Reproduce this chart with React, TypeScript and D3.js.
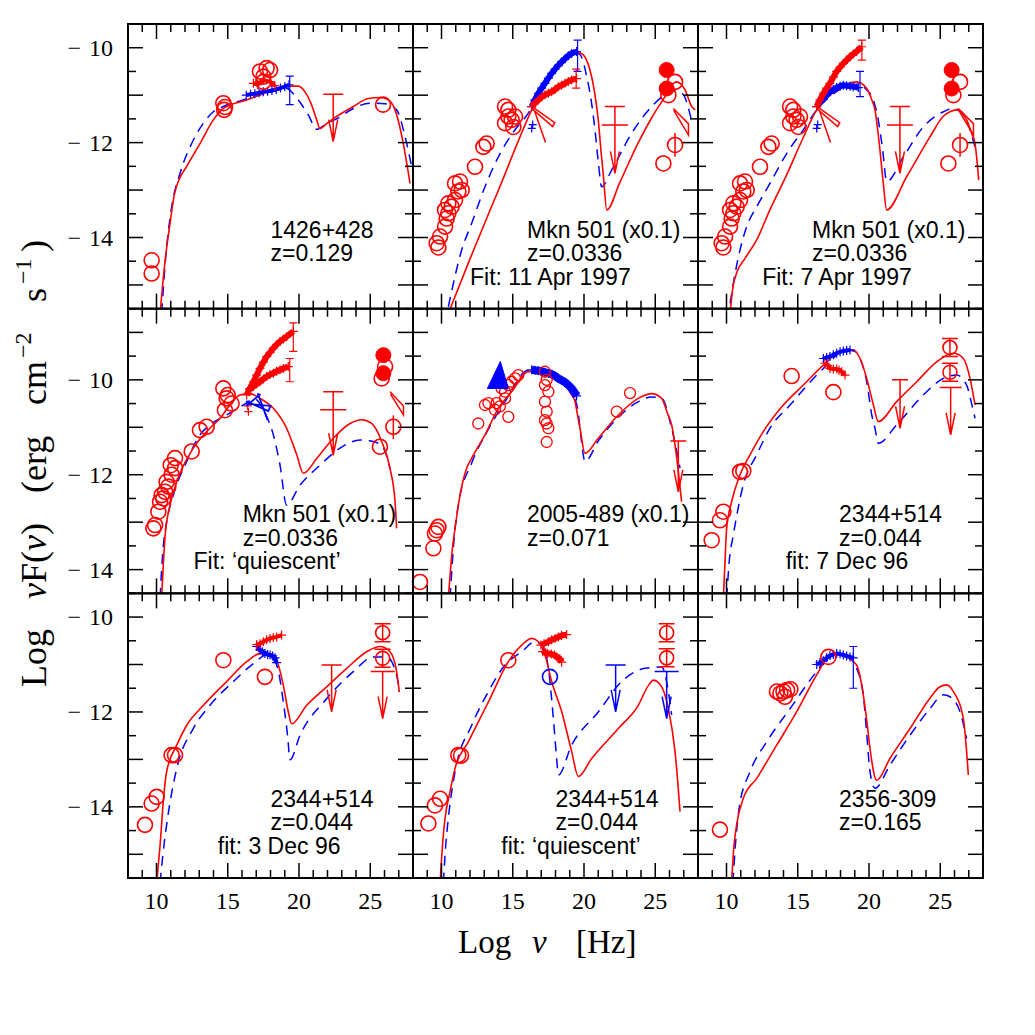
import React from "react";
import * as d3 from "d3";

type Pt = [number, number];
type Bar = [number, number, number]; // x, yHigh, yLow
type UL = [number, number, number, number, number?]; // x, yCap, yTip, capHalfWidth(px), optional second bar y

const X_DOMAIN: [number, number] = [8, 28];
const ROW_DOMAINS: [number, number][] = [[-15.5, -9.5], [-14.5, -8.5], [-15.5, -9.5]];
const X_TICK_LABELS = [10, 15, 20, 25];
const Y_TICK_LABELS = [-10, -12, -14];

// ---------- Panel 1: 1426+428 ----------
const p1Red: Pt[] = [[10.25,-15.6],[10.6,-14.5],[10.95,-13.7],[11.25,-13.1],[11.53,-12.82],[12.12,-12.5],[13.05,-12.02],[13.99,-11.52],[14.69,-11.28],[16.33,-11.1],[18.2,-10.89],[19.13,-10.81],[19.95,-10.81],[20.42,-10.93],[20.89,-11.21],[21.24,-11.52],[21.47,-11.7],[21.94,-11.6],[22.64,-11.45],[23.81,-11.24],[24.87,-11.07],[25.68,-11.05],[26.27,-11.1],[26.74,-11.31],[27.32,-12.02],[27.79,-12.86]];
const p1Blue: Pt[] = [[10.36,-15.6],[10.66,-14.37],[11.05,-13.38],[11.65,-12.65],[12.58,-11.95],[13.29,-11.59],[13.99,-11.35],[14.69,-11.24],[16.33,-11.08],[18.2,-10.92],[19.13,-10.86],[19.6,-10.97],[20.07,-11.15],[20.66,-11.42],[21.24,-11.72],[21.94,-11.6],[22.64,-11.5],[23.81,-11.28],[24.98,-11.17],[26.03,-11.18],[26.85,-11.31],[27.44,-11.87],[27.9,-12.5]];
const p1Circles: Pt[] = [[9.66,-14.48],[9.66,-14.76],[14.69,-11.17],[14.81,-11.25],[14.75,-11.31],[17.26,-10.5],[17.73,-10.43],[17.97,-10.47],[17.5,-10.61],[17.5,-10.72],[25.9,-11.2]];
const p1RedX: Pt[] = [[16.8,-10.75],[17.1,-10.78],[17.5,-10.68],[18.0,-10.72],[18.3,-10.8]];
const p1BlueX: Pt[] = [[16.3,-11.0],[16.6,-10.98],[16.9,-10.97],[17.2,-10.95],[17.5,-10.93],[17.8,-10.92],[18.1,-10.9],[18.4,-10.88],[18.7,-10.85],[19.0,-10.82],[19.3,-10.78]];
const p1BlueErr: Bar[] = [[19.35,-10.6,-11.2]];
const p1UL: UL[] = [[22.4,-10.98,-11.98,10]];
const p1Text = ["1426+428", "z=0.129"];
const p1TextX = [18, 18];

// ---------- Panels 2 & 3: Mkn 501 (shared observational points) ----------
const mknRadio: Pt[] = [[9.66,-14.12],[9.78,-14.21],[9.9,-13.98],[10.25,-13.77],[10.36,-13.6],[10.48,-13.49],[10.71,-13.35],[10.95,-13.21],[11.18,-13.03],[10.95,-12.86],[11.3,-12.82],[11.42,-13.0],[10.48,-13.28],[10.25,-13.42],[12.35,-12.51],[12.94,-12.09],[13.17,-12.02],[14.46,-11.24],[14.69,-11.45],[14.92,-11.52],[14.46,-11.59],[15.04,-11.67],[14.69,-11.31],[15.16,-11.45],[25.57,-12.44],[26.39,-12.05],[26.39,-10.72],[25.92,-11.0]];
const mknFilled: Pt[] = [[25.8,-10.47],[25.8,-10.86]];
const mknErr: Bar[] = [[26.39,-11.8,-12.3]];
const mknUL: UL[] = [[22.17,-11.24,-12.65,10,-11.63]];
const mknBows: Pt[][] = [[[16.4,-11.25],[17.95,-11.58],[17.8,-11.66],[16.4,-11.3]],[[16.55,-11.35],[17.3,-12.0]],[[26.27,-11.28],[27.33,-11.6],[27.33,-11.84],[26.3,-11.32]]];
const mknBlueCross: Pt[] = [[16.33,-11.7],[16.4,-11.62]];

const p2Red: Pt[] = [[10.48,-15.6],[12.0,-14.45],[14.0,-13.0],[16.33,-11.31],[17.0,-10.9],[17.7,-10.55],[18.4,-10.3],[19.0,-10.14],[19.5,-10.09],[19.95,-10.15],[20.4,-10.45],[20.75,-10.95],[21.0,-11.52],[21.2,-12.2],[21.36,-12.7],[21.6,-13.42],[22.5,-12.85],[23.81,-12.0],[24.8,-11.45],[25.68,-11.03],[26.15,-10.79],[26.5,-10.72],[26.85,-10.78],[27.09,-10.89],[27.56,-11.24],[27.8,-11.31]];
const p2Blue: Pt[] = [[10.48,-15.46],[11.42,-14.26],[12.12,-13.7],[13.05,-12.93],[13.99,-12.3],[15.16,-11.73],[16.09,-11.38],[16.8,-11.0],[17.8,-10.5],[18.9,-10.19],[19.6,-10.12],[19.9,-10.25],[20.19,-10.61],[20.5,-11.1],[20.77,-11.73],[21.0,-12.4],[21.24,-12.93],[21.94,-12.58],[23.35,-11.8],[24.75,-11.24],[25.68,-10.99],[26.39,-10.89],[26.85,-10.95],[27.09,-11.05],[27.35,-11.3],[27.51,-11.49]];
const p2RedX: Pt[] = [[16.33,-11.24],[16.55,-11.17],[16.8,-11.1],[17.03,-11.04],[17.26,-10.99],[17.5,-10.96],[17.73,-10.93],[17.97,-10.88],[18.2,-10.82],[18.43,-10.79],[18.67,-10.75],[18.9,-10.71],[19.13,-10.68],[19.48,-10.65]];
const p2BlueX: Pt[] = [[16.33,-11.24],[16.55,-11.1],[16.8,-10.96],[17.03,-10.85],[17.26,-10.75],[17.5,-10.64],[17.73,-10.54],[17.97,-10.45],[18.2,-10.37],[18.43,-10.3],[18.67,-10.23],[18.9,-10.17],[19.13,-10.12],[19.48,-10.08]];
const p2RedErr: Bar[] = [[19.45,-10.45,-10.85]];
const p2BlueErr: Bar[] = [[19.55,-9.84,-10.5]];
const p2Text = ["Mkn 501 (x0.1)", "z=0.0336", "Fit: 11 Apr 1997"];
const p2TextX = [16, 16, 12];

const p3Red: Pt[] = [[10.25,-15.6],[10.45,-15.05],[10.71,-14.75],[11.3,-14.44],[12.12,-14.05],[13.0,-13.45],[14.22,-12.68],[15.3,-11.95],[16.33,-11.31],[17.26,-11.0],[18.3,-10.78],[19.13,-10.72],[19.84,-10.86],[20.2,-11.1],[20.42,-11.31],[20.6,-11.7],[20.77,-12.16],[21.0,-12.85],[21.24,-13.42],[22.64,-12.72],[24.28,-11.88],[25.2,-11.45],[25.68,-11.35],[26.15,-11.31],[26.5,-11.38],[26.85,-11.52],[27.2,-11.8],[27.44,-12.02],[27.7,-12.79]];
const p3Blue: Pt[] = [[10.25,-15.39],[10.6,-14.76],[10.95,-14.26],[11.42,-13.77],[12.12,-13.35],[13.05,-12.86],[14.22,-12.23],[15.39,-11.73],[16.33,-11.31],[17.26,-11.03],[18.43,-10.81],[19.13,-10.77],[19.84,-10.89],[20.3,-11.1],[20.65,-11.52],[20.96,-12.16],[21.24,-12.82],[22.41,-12.3],[23.81,-11.67],[25.22,-11.35],[25.92,-11.28],[26.5,-11.35],[27.09,-11.73],[27.44,-12.09]];
const p3RedX: Pt[] = [[16.33,-11.24],[16.55,-11.1],[16.8,-10.96],[17.03,-10.85],[17.26,-10.75],[17.5,-10.62],[17.73,-10.5],[17.97,-10.41],[18.2,-10.33],[18.43,-10.26],[18.67,-10.19],[18.9,-10.13],[19.13,-10.08],[19.48,-9.98]];
const p3BlueX: Pt[] = [[16.33,-11.24],[16.55,-11.15],[16.8,-11.07],[17.03,-11.0],[17.26,-10.93],[17.5,-10.88],[17.73,-10.84],[17.97,-10.81],[18.2,-10.79],[18.43,-10.8],[18.67,-10.81],[18.9,-10.82],[19.25,-10.84]];
const p3RedErr: Bar[] = [[19.5,-9.84,-10.26]];
const p3BlueErr: Bar[] = [[19.37,-10.5,-11.03]];
const p3Text = ["Mkn 501 (x0.1)", "z=0.0336", "Fit: 7 Apr 1997"];
const p3TextX = [16, 16, 12.5];

// ---------- Panel 4: Mkn 501 quiescent ----------
const p4Red: Pt[] = [[10.36,-14.6],[10.6,-13.3],[10.95,-12.64],[11.42,-12.15],[12.58,-11.44],[13.75,-11.02],[14.5,-10.8],[15.1,-10.55],[15.86,-10.32],[16.56,-10.29],[17.26,-10.39],[18.2,-10.6],[19.13,-11.02],[19.84,-11.58],[20.31,-11.97],[21.24,-11.66],[22.41,-11.23],[23.58,-10.92],[24.4,-10.84],[25.1,-10.92],[25.8,-11.3],[26.39,-11.87],[26.74,-12.57],[26.85,-13.13]];
const p4Blue: Pt[] = [[10.25,-14.6],[10.45,-13.6],[10.71,-13.0],[11.18,-12.43],[12.12,-11.72],[13.05,-11.16],[13.75,-10.95],[14.92,-10.74],[16.09,-10.53],[16.9,-10.4],[17.5,-10.64],[18.2,-11.16],[18.67,-11.8],[19.13,-12.64],[20.07,-12.22],[21.47,-11.8],[22.88,-11.44],[24.28,-11.27],[25.22,-11.3],[25.92,-11.44],[26.39,-11.87]];
const p4Circles: Pt[] = [[9.78,-13.13],[9.9,-13.06],[10.13,-12.78],[10.25,-12.57],[10.36,-12.43],[10.6,-12.36],[10.83,-12.25],[10.71,-12.15],[11.06,-12.0],[11.3,-11.86],[11.3,-11.65],[11.0,-11.8],[10.48,-12.5],[12.47,-11.51],[13.05,-11.06],[13.52,-10.99],[14.69,-10.18],[14.92,-10.39],[15.27,-10.5],[14.8,-10.64],[15.0,-10.32],[25.68,-11.41],[26.62,-10.99],[26.04,-9.72],[25.8,-9.97]];
const p4Filled: Pt[] = [[25.92,-9.48],[25.92,-9.86]];
const p4Err: Bar[] = [[26.62,-10.75,-11.25]];
const p4RedX: Pt[] = [[16.33,-10.32],[16.55,-10.18],[16.8,-10.04],[17.03,-9.9],[17.26,-9.76],[17.5,-9.63],[17.73,-9.51],[17.97,-9.42],[18.2,-9.33],[18.43,-9.26],[18.67,-9.19],[18.9,-9.14],[19.13,-9.09],[19.6,-8.98]];
const p4RedX2: Pt[] = [[16.55,-10.2],[16.8,-10.14],[17.03,-10.09],[17.26,-10.04],[17.5,-9.98],[17.73,-9.93],[17.97,-9.89],[18.2,-9.86],[18.43,-9.82],[18.67,-9.79],[18.9,-9.76],[19.25,-9.72]];
const p4RedScatter: Pt[] = [[16.45,-10.67],[16.4,-10.55]];
const p4RedErr: Bar[] = [[19.6,-8.8,-9.4],[19.35,-9.55,-10.04]];
const p4BlueBows: Pt[][] = [[[16.25,-10.5],[18.0,-10.55],[17.85,-10.66],[16.3,-10.45]],[[17.1,-10.28],[17.8,-10.85]],[[16.3,-10.55],[17.3,-10.3]]];
const p4RedBows: Pt[][] = [[[26.39,-10.25],[27.33,-10.55],[27.33,-10.74],[26.42,-10.3]]];
const p4UL: UL[] = [[22.4,-10.25,-11.59,10,-10.63]];
const p4Text = ["Mkn 501 (x0.1)", "z=0.0336", "Fit: \u2018quiescent\u2019"];
const p4TextX = [16.05, 16.05, 12.6];

// ---------- Panel 5: 2005-489 ----------
const p5Red: Pt[] = [[10.48,-14.6],[10.75,-13.6],[10.95,-13.13],[11.3,-12.43],[11.77,-11.86],[12.12,-11.65],[13.05,-11.16],[13.99,-10.6],[14.92,-10.25],[16.09,-9.83],[16.8,-9.83],[17.73,-9.93],[18.67,-10.11],[19.1,-10.3],[19.37,-10.46],[19.55,-10.75],[19.72,-11.02],[20.07,-11.55],[21.0,-11.23],[22.41,-10.74],[23.81,-10.39],[24.75,-10.29],[25.45,-10.39],[25.85,-10.7],[26.15,-10.95],[26.4,-11.4],[26.62,-11.94],[26.85,-12.57]];
const p5Blue: Pt[] = [[10.6,-14.6],[10.9,-13.3],[11.2,-12.6],[12.12,-11.75],[13.29,-11.04],[14.46,-10.46],[16.09,-9.8],[17.73,-9.9],[19.13,-10.29],[19.55,-10.6],[19.75,-11.1],[20.07,-11.72],[21.0,-11.29],[22.41,-10.79],[23.81,-10.46],[24.75,-10.36],[25.45,-10.39],[26.15,-11.02],[26.74,-11.86]];
const p5Circles: Pt[] = [[8.49,-14.26],[9.43,-13.55],[9.54,-13.24],[9.66,-13.17],[9.78,-13.1]];
const p5Small: Pt[] = [[12.58,-10.92],[13.05,-10.53],[13.29,-10.49],[13.75,-10.63],[13.87,-10.49],[14.1,-10.56],[14.46,-10.39],[14.69,-10.78],[14.46,-10.25],[14.69,-10.11],[14.92,-10.04],[15.16,-9.97],[15.39,-9.9],[14.22,-10.18],[17.26,-9.83],[17.38,-10.0],[17.5,-10.25],[17.26,-10.46],[17.38,-10.67],[17.26,-10.85],[17.38,-10.92],[17.5,-11.02],[17.38,-11.31],[17.26,-10.11],[22.3,-10.67],[23.23,-10.28]];
const p5Triangle: Pt[] = [[13.92,-9.95]];
const p5BlueX: Pt[] = [[16.33,-9.79],[16.56,-9.8],[16.8,-9.81],[17.03,-9.82],[17.26,-9.84],[17.5,-9.86],[17.73,-9.88],[17.97,-9.92],[18.2,-9.97],[18.43,-10.01],[18.67,-10.05],[18.9,-10.11],[19.13,-10.18],[19.37,-10.28],[19.48,-10.34]];
const p5UL: UL[] = [[26.62,-11.29,-12.36,8]];
const p5Text = ["2005-489 (x0.1)", "z=0.071"];
const p5TextX = [16, 16];

// ---------- Panel 6: 2344+514 (7 Dec 96) ----------
const p6Red: Pt[] = [[9.78,-14.6],[9.9,-13.8],[10.01,-13.13],[10.36,-12.57],[10.95,-12.0],[11.65,-11.58],[12.58,-11.09],[13.99,-10.53],[15.39,-10.11],[16.8,-9.69],[17.97,-9.41],[18.9,-9.37],[19.37,-9.55],[19.84,-9.97],[20.31,-10.53],[20.65,-10.88],[21.94,-10.46],[23.35,-10.04],[24.75,-9.62],[25.92,-9.44],[26.62,-9.55],[27.09,-9.97],[27.44,-10.53]];
const p6Blue: Pt[] = [[10.01,-14.6],[10.2,-13.8],[10.48,-13.27],[11.18,-12.21],[12.12,-11.58],[13.05,-11.02],[14.46,-10.53],[16.8,-9.76],[18.43,-9.37],[19.0,-9.4],[19.37,-9.55],[19.84,-10.04],[20.2,-10.75],[20.42,-11.02],[20.65,-11.34],[21.94,-10.95],[23.81,-10.32],[25.22,-9.97],[26.15,-9.9],[26.85,-10.11],[27.2,-10.5],[27.44,-10.81]];
const p6Circles: Pt[] = [[8.96,-13.38],[9.54,-12.96],[9.78,-12.78],[10.95,-11.94],[11.18,-11.92],[14.57,-9.92],[17.5,-10.26]];
const p6ErrCircles: Pt[] = [[25.68,-9.32],[25.68,-9.84]];
const p6RedX: Pt[] = [[16.91,-9.65],[17.1,-9.7],[17.26,-9.76],[17.5,-9.77],[17.73,-9.77],[17.9,-9.8],[18.08,-9.83],[18.32,-9.9]];
const p6BlueX: Pt[] = [[16.8,-9.55],[17.03,-9.53],[17.26,-9.51],[17.5,-9.47],[17.73,-9.44],[17.97,-9.41],[18.2,-9.39],[18.43,-9.38],[18.67,-9.37]];
const p6UL: UL[] = [[22.18,-10.0,-11.02,8],[25.73,-10.16,-11.16,11]];
const p6Text = ["2344+514", "z=0.044", "fit: 7 Dec 96"];
const p6TextX = [17.9, 17.9, 14.15];

// ---------- Panel 7: 2344+514 (3 Dec 96) ----------
const p7Red: Pt[] = [[10.01,-15.6],[10.25,-14.81],[10.5,-13.8],[10.71,-13.26],[11.42,-12.7],[12.12,-12.28],[13.29,-11.86],[14.92,-11.36],[16.33,-10.94],[17.26,-10.77],[17.97,-10.77],[18.43,-10.91],[18.9,-11.44],[19.25,-12.0],[19.48,-12.25],[20.54,-11.86],[21.94,-11.47],[23.35,-11.08],[24.75,-10.73],[25.68,-10.62],[26.39,-10.73],[26.85,-11.15],[27.04,-11.58]];
const p7Blue: Pt[] = [[10.25,-15.6],[10.45,-15.0],[10.71,-14.38],[11.42,-13.19],[12.58,-12.35],[13.75,-11.86],[15.39,-11.36],[16.8,-10.98],[17.73,-10.8],[18.43,-11.01],[18.9,-11.79],[19.2,-12.5],[19.37,-13.01],[20.07,-12.49],[21.94,-11.72],[23.81,-11.15],[25.22,-10.84],[26.15,-10.84],[26.85,-11.22],[27.04,-11.58]];
const p7Circles: Pt[] = [[9.19,-14.38],[9.66,-13.93],[10.01,-13.79],[11.06,-12.91],[11.3,-12.91],[14.69,-10.91],[17.61,-11.26]];
const p7ErrCircles: Pt[] = [[25.87,-10.33],[25.87,-10.87]];
const p7RedX: Pt[] = [[17.03,-10.58],[17.26,-10.56],[17.5,-10.52],[17.73,-10.48],[17.97,-10.45],[18.2,-10.43],[18.43,-10.42],[18.78,-10.38]];
const p7BlueX: Pt[] = [[17.03,-10.62],[17.26,-10.69],[17.43,-10.73],[17.61,-10.77],[17.8,-10.79],[17.97,-10.8],[18.15,-10.82],[18.32,-10.86],[18.43,-10.96]];
const p7UL: UL[] = [[22.29,-11.01,-12.0,10],[25.87,-11.15,-12.14,12]];
const p7Text = ["2344+514", "z=0.044", "fit: 3 Dec 96"];
const p7TextX = [18, 18, 14.3];

// ---------- Panel 8: 2344+514 (quiescent) ----------
const p8Red: Pt[] = [[9.9,-15.6],[10.1,-14.7],[10.25,-14.24],[10.6,-13.68],[10.95,-13.19],[11.88,-12.63],[13.29,-11.79],[14.69,-10.94],[15.63,-10.59],[16.33,-10.45],[16.8,-10.52],[17.26,-10.8],[17.73,-11.36],[18.43,-11.99],[19.13,-12.83],[19.6,-13.36],[20.54,-12.98],[22.41,-12.35],[23.81,-11.86],[24.5,-11.45],[24.87,-11.33],[25.45,-11.47],[25.92,-11.93],[26.39,-12.84],[26.74,-14.1]];
const p8Blue: Pt[] = [[10.13,-15.6],[10.3,-14.8],[10.48,-14.24],[10.95,-13.26],[12.12,-12.28],[13.29,-11.57],[14.46,-11.01],[15.63,-10.73],[16.56,-10.52],[17.03,-10.59],[17.5,-11.08],[17.85,-12.14],[18.08,-12.98],[18.2,-13.33],[19.13,-12.7],[21.0,-12.0],[22.64,-11.36],[24.28,-11.08],[25.45,-11.05],[25.92,-11.57],[26.15,-12.06]];
const p8Circles: Pt[] = [[9.08,-14.35],[9.54,-13.97],[9.9,-13.83],[11.18,-12.91],[11.37,-12.92],[14.69,-10.91]];
const p8BlueCircles: Pt[] = [[17.61,-11.26]];
const p8ErrCircles: Pt[] = [[25.8,-10.33],[25.8,-10.86]];
const p8RedX: Pt[] = [[16.98,-10.59],[17.2,-10.56],[17.5,-10.52],[17.73,-10.48],[17.97,-10.45],[18.2,-10.42],[18.43,-10.39],[18.78,-10.37]];
const p8RedX2: Pt[] = [[17.1,-10.73],[17.3,-10.75],[17.45,-10.77],[17.7,-10.78],[17.92,-10.8],[18.1,-10.84],[18.3,-10.88],[18.43,-10.95]];
const p8UL: UL[] = [[22.22,-11.01,-12.0,10],[25.8,-11.15,-12.14,12]];
const p8Text = ["2344+514", "z=0.044", "fit: \u2018quiescent\u2019"];
const p8TextX = [18, 18, 14.2];

// ---------- Panel 9: 2356-309 ----------
const p9Red: Pt[] = [[10.36,-15.6],[10.5,-14.9],[10.71,-14.38],[11.18,-13.82],[12.12,-13.4],[13.52,-12.7],[14.92,-12.0],[16.33,-11.22],[17.26,-10.8],[17.73,-10.77],[18.43,-10.84],[19.13,-11.01],[19.6,-11.64],[19.85,-12.2],[20.07,-12.77],[20.54,-13.44],[21.47,-12.98],[22.88,-12.35],[24.28,-11.71],[24.98,-11.47],[25.45,-11.43],[25.92,-11.57],[26.62,-12.14],[26.97,-13.33]];
const p9Blue: Pt[] = [[10.45,-15.6],[10.6,-14.9],[10.9,-14.0],[11.65,-13.26],[12.82,-12.63],[14.46,-11.93],[16.33,-11.15],[17.5,-10.77],[18.43,-10.8],[19.13,-11.08],[19.6,-11.64],[19.85,-12.5],[20.07,-13.26],[20.42,-13.61],[21.47,-13.12],[22.88,-12.49],[24.28,-11.93],[25.22,-11.64],[25.68,-11.68],[26.39,-12.0],[26.85,-12.56]];
const p9Circles: Pt[] = [[9.54,-14.48],[13.54,-11.57],[13.78,-11.61],[14.0,-11.57],[14.25,-11.54],[14.48,-11.52],[14.1,-11.68],[17.15,-10.84]];
const p9BlueX: Pt[] = [[16.33,-11.0],[16.56,-10.96],[16.8,-10.92],[17.03,-10.86],[17.26,-10.81],[17.5,-10.79],[17.73,-10.77],[17.97,-10.78],[18.2,-10.8],[18.43,-10.82],[18.67,-10.84],[18.9,-10.86]];
const p9BlueErr: Bar[] = [[18.9,-10.62,-11.5]];
const p9Text = ["2356-309", "z=0.165"];
const p9TextX = [17.9, 17.9];

const RED = "#ff0000";
const BLUE = "#0000ff";

interface PanelCfg {
  red: Pt[]; blue: Pt[];
  circles?: Pt[]; small?: Pt[]; filled?: Pt[]; errCircles?: Pt[]; blueCircles?: Pt[];
  redX?: Pt[][]; blueX?: Pt[][]; bandW?: number; redErr?: Bar[]; blueErr?: Bar[]; circErr?: Bar[];
  redScatter?: Pt[];
  ul?: UL[]; ulColor?: string;
  redBows?: Pt[][]; blueBows?: Pt[][]; blueCross?: Pt[];
  triangle?: Pt[];
  text: string[]; textX: number[];
}

const PANELS: PanelCfg[] = [
  { red: p1Red, blue: p1Blue, circles: p1Circles, redX: [p1RedX], blueX: [p1BlueX], blueErr: p1BlueErr, ul: p1UL, ulColor: RED, text: p1Text, textX: p1TextX },
  { red: p2Red, blue: p2Blue, circles: mknRadio, filled: mknFilled, circErr: mknErr, redX: [p2RedX], blueX: [p2BlueX], bandW: 6, redErr: p2RedErr, blueErr: p2BlueErr, ul: mknUL, ulColor: RED, redBows: mknBows, blueCross: mknBlueCross, text: p2Text, textX: p2TextX },
  { red: p3Red, blue: p3Blue, circles: mknRadio, filled: mknFilled, circErr: mknErr, redX: [p3RedX], blueX: [p3BlueX], bandW: 6, redErr: p3RedErr, blueErr: p3BlueErr, ul: mknUL, ulColor: RED, redBows: mknBows, blueCross: mknBlueCross, text: p3Text, textX: p3TextX },
  { red: p4Red, blue: p4Blue, circles: p4Circles, filled: p4Filled, circErr: p4Err, redX: [p4RedX, p4RedX2], bandW: 6, redScatter: p4RedScatter, redErr: p4RedErr, ul: p4UL, ulColor: RED, redBows: p4RedBows, blueBows: p4BlueBows, text: p4Text, textX: p4TextX },
  { red: p5Red, blue: p5Blue, circles: p5Circles, small: p5Small, blueX: [p5BlueX], bandW: 8, triangle: p5Triangle, ul: p5UL, ulColor: RED, text: p5Text, textX: p5TextX },
  { red: p6Red, blue: p6Blue, circles: p6Circles, errCircles: p6ErrCircles, redX: [p6RedX], blueX: [p6BlueX], ul: p6UL, ulColor: RED, text: p6Text, textX: p6TextX },
  { red: p7Red, blue: p7Blue, circles: p7Circles, errCircles: p7ErrCircles, redX: [p7RedX], blueX: [p7BlueX], ul: p7UL, ulColor: RED, text: p7Text, textX: p7TextX },
  { red: p8Red, blue: p8Blue, circles: p8Circles, blueCircles: p8BlueCircles, errCircles: p8ErrCircles, redX: [p8RedX, p8RedX2], bandW: 6, ul: p8UL, ulColor: BLUE, text: p8Text, textX: p8TextX },
  { red: p9Red, blue: p9Blue, circles: p9Circles, blueX: [p9BlueX], blueErr: p9BlueErr, text: p9Text, textX: p9TextX },
];

const LEFT = 128, TOP = 24, PW = 285, PH = 284.67;
const SERIF = "'Liberation Serif', 'DejaVu Serif', serif";
const SANS = "'Liberation Sans', Arial, sans-serif";

function Panel({ cfg, row, col }: { cfg: PanelCfg; row: number; col: number }) {
  const x0 = LEFT + col * PW;
  const y0 = TOP + row * PH;
  const xs = d3.scaleLinear().domain(X_DOMAIN).range([0, PW]);
  const ys = d3.scaleLinear().domain(ROW_DOMAINS[row]).range([PH, 0]);
  const curve = d3.line<Pt>().x((d) => xs(d[0])).y((d) => ys(d[1])).curve(d3.curveMonotoneX);
  const poly = d3.line<Pt>().x((d) => xs(d[0])).y((d) => ys(d[1]));
  const clipId = `clip-${row}-${col}`;
  const bw = cfg.bandW ?? 4;

  const xMinor = d3.range(X_DOMAIN[0], X_DOMAIN[1] + 0.001, 1);
  const dom = ROW_DOMAINS[row];
  const yMinor = d3.range(dom[0], dom[1] + 0.001, 0.5);

  const cross = (p: Pt, a: number) => {
    const cx = xs(p[0]), cy = ys(p[1]);
    return `M${cx - a},${cy}H${cx + a}M${cx},${cy - a}V${cy + a}`;
  };
  const errBar = (b: Bar, cap: number) => {
    const cx = xs(b[0]), y1 = ys(b[1]), y2 = ys(b[2]);
    return `M${cx},${y1}V${y2}M${cx - cap},${y1}H${cx + cap}M${cx - cap},${y2}H${cx + cap}`;
  };

  const baselines = [-71, -47.5, -24];

  return (
    <g transform={`translate(${x0},${y0})`}>
      <defs>
        <clipPath id={clipId}><rect x={0} y={0} width={PW} height={PH} /></clipPath>
      </defs>
      <g clipPath={`url(#${clipId})`}>
        <path d={curve(cfg.blue) || ""} fill="none" stroke={BLUE} strokeWidth={1.5} strokeDasharray="10,7" />
        <path d={curve(cfg.red) || ""} fill="none" stroke={RED} strokeWidth={1.6} />
      </g>
      {(cfg.blueX || []).map((s, i) => (
        <g key={`bx${i}`}>
          <path d={poly(s) || ""} fill="none" stroke={BLUE} strokeWidth={bw} strokeLinejoin="round" />
          {s.map((p, j) => <path key={j} d={cross(p, 4.5)} stroke={BLUE} strokeWidth={1.2} />)}
        </g>
      ))}
      {(cfg.redX || []).map((s, i) => (
        <g key={`rx${i}`}>
          <path d={poly(s) || ""} fill="none" stroke={RED} strokeWidth={bw} strokeLinejoin="round" />
          {s.map((p, j) => <path key={j} d={cross(p, 4.5)} stroke={RED} strokeWidth={1.2} />)}
        </g>
      ))}
      {(cfg.redScatter || []).map((p, i) => <path key={`rs${i}`} d={cross(p, 4)} stroke={RED} strokeWidth={1.2} />)}
      {(cfg.blueErr || []).map((b, i) => <path key={`be${i}`} d={errBar(b, 4)} stroke={BLUE} strokeWidth={1.2} fill="none" />)}
      {(cfg.redErr || []).map((b, i) => <path key={`re${i}`} d={errBar(b, 4)} stroke={RED} strokeWidth={1.2} fill="none" />)}
      {(cfg.blueCross || []).map((p, i) => <path key={`bc${i}`} d={cross(p, 4)} stroke={BLUE} strokeWidth={1.2} />)}
      {(cfg.redBows || []).map((b, i) => <path key={`rb${i}`} d={poly(b) || ""} fill="none" stroke={RED} strokeWidth={1.5} />)}
      {(cfg.blueBows || []).map((b, i) => <path key={`bb${i}`} d={poly(b) || ""} fill="none" stroke={BLUE} strokeWidth={1.8} />)}
      {(cfg.circles || []).map((p, i) => (
        <circle key={`c${i}`} cx={xs(p[0])} cy={ys(p[1])} r={7.5} fill="none" stroke={RED} strokeWidth={1.6} />
      ))}
      {(cfg.small || []).map((p, i) => (
        <circle key={`s${i}`} cx={xs(p[0])} cy={ys(p[1])} r={5.5} fill="none" stroke={RED} strokeWidth={1.3} />
      ))}
      {(cfg.blueCircles || []).map((p, i) => (
        <circle key={`bcc${i}`} cx={xs(p[0])} cy={ys(p[1])} r={7.5} fill="none" stroke={BLUE} strokeWidth={1.6} />
      ))}
      {(cfg.filled || []).map((p, i) => (
        <circle key={`f${i}`} cx={xs(p[0])} cy={ys(p[1])} r={7.5} fill={RED} stroke={RED} strokeWidth={1} />
      ))}
      {(cfg.circErr || []).map((b, i) => <path key={`ce${i}`} d={`M${xs(b[0])},${ys(b[1])}V${ys(b[2])}`} stroke={RED} strokeWidth={1.5} />)}
      {(cfg.errCircles || []).map((p, i) => {
        const cx = xs(p[0]), cy = ys(p[1]);
        return (
          <g key={`ec${i}`}>
            <circle cx={cx} cy={cy} r={7} fill="none" stroke={RED} strokeWidth={1.6} />
            <path d={`M${cx},${cy - 9}V${cy + 9}M${cx - 8},${cy - 9}H${cx + 8}M${cx - 8},${cy + 9}H${cx + 8}`} stroke={RED} strokeWidth={1.5} />
          </g>
        );
      })}
      {(cfg.triangle || []).map((p, i) => {
        const cx = xs(p[0]), cy = ys(p[1]);
        return <path key={`t${i}`} d={`M${cx + 3},${cy - 16}L${cx + 11},${cy + 11}L${cx - 10},${cy + 11}Z`} fill={BLUE} stroke={BLUE} />;
      })}
      {(cfg.ul || []).map((u, i) => {
        const cx = xs(u[0]), yc = ys(u[1]), yt = ys(u[2]), hw = u[3];
        let d = `M${cx},${yc}V${yt}M${cx - hw},${yc}H${cx + hw}M${cx - 4.5},${yt - 22}L${cx},${yt}L${cx + 4.5},${yt - 22}`;
        if (u[4] !== undefined) d += `M${cx - hw - 3},${ys(u[4])}H${cx + hw + 3}`;
        return <path key={`ul${i}`} d={d} fill="none" stroke={cfg.ulColor} strokeWidth={1.5} />;
      })}
      {cfg.text.map((t, i) => (
        <text key={`tx${i}`} x={xs(cfg.textX[i])} y={PH + baselines[i]} fontFamily={SANS} fontSize={23} fill="#000">{t}</text>
      ))}
      {xMinor.map((v) => {
        const major = Math.abs(v % 5) < 1e-6;
        const L = major ? 15 : 8;
        const px = xs(v);
        return (
          <g key={`xt${v}`}>
            <line x1={px} x2={px} y1={PH} y2={PH - L} stroke="#000" strokeWidth={1.5} />
            <line x1={px} x2={px} y1={0} y2={L} stroke="#000" strokeWidth={1.5} />
          </g>
        );
      })}
      {yMinor.map((v) => {
        const major = Math.abs(v - Math.round(v)) < 1e-6;
        const L = major ? 15 : 8;
        const py = ys(v);
        return (
          <g key={`yt${v}`}>
            <line x1={0} x2={L} y1={py} y2={py} stroke="#000" strokeWidth={1.5} />
            <line x1={PW} x2={PW - L} y1={py} y2={py} stroke="#000" strokeWidth={1.5} />
          </g>
        );
      })}
      <rect x={0} y={0} width={PW} height={PH} fill="none" stroke="#000" strokeWidth={2} />
      {row === 2 && X_TICK_LABELS.map((v) => (
        <text key={`xl${v}`} x={xs(v)} y={PH + 31} textAnchor="middle" fontFamily={SERIF} fontSize={24}>{v}</text>
      ))}
      {col === 0 && Y_TICK_LABELS.map((v) => (
        <text key={`yl${v}`} x={-15} y={ys(v) + 8} textAnchor="end" fontFamily={SERIF} fontSize={24}>
          <tspan>{"\u2212"}</tspan><tspan dx={8}>{Math.abs(v)}</tspan>
        </text>
      ))}
    </g>
  );
}

export default function App() {
  return (
    <svg width={1035} height={1035} viewBox="0 0 1035 1035" style={{ position: "absolute", left: 0, top: 0, background: "#fff" }}>
      <rect x={0} y={0} width={1035} height={1035} fill="#fff" />
      {PANELS.map((cfg, i) => (
        <Panel key={i} cfg={cfg} row={Math.floor(i / 3)} col={i % 3} />
      ))}
      {/* X axis title */}
      <g fontFamily={SERIF} fontSize={33}>
        <text x={458} y={953}>Log</text>
        <text x={532} y={953} fontStyle="italic">{"\u03bd"}</text>
        <text x={576} y={953}>[Hz]</text>
      </g>
      {/* Y axis title, pieces placed along the axis */}
      <g transform="translate(46,0) rotate(-90)" fontFamily={SERIF} fontSize={36}>
        <text x={-687} y={0}>Log</text>
        <text x={-599} y={0}>
          <tspan fontStyle="italic">{"\u03bd"}</tspan>F(<tspan fontStyle="italic">{"\u03bd"}</tspan>)
        </text>
        <text x={-493} y={0}>(erg</text>
        <text x={-405} y={0}>cm</text>
        <text x={-358} y={-15} fontSize={24}>{"\u22122"}</text>
        <text x={-302} y={0}>s</text>
        <text x={-284} y={-15} fontSize={24}>{"\u22121"}</text>
        <text x={-252} y={0}>)</text>
      </g>
    </svg>
  );
}
